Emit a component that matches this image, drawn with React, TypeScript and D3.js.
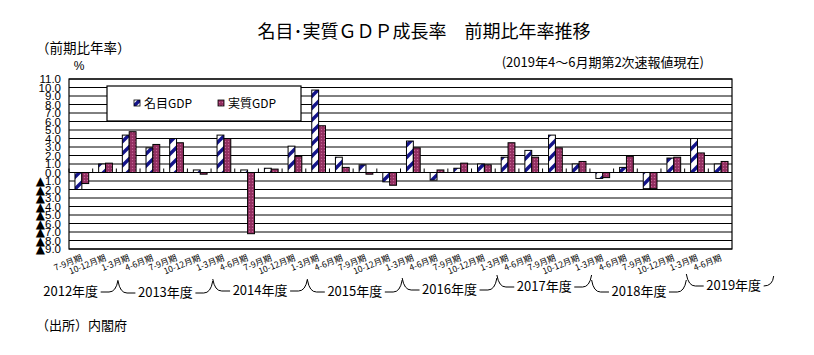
import React from "react";
import * as d3 from "d3";

const quarterLabels = [
  "7-9月期", "10-12月期", "1-3月期",
  "4-6月期", "7-9月期", "10-12月期", "1-3月期",
  "4-6月期", "7-9月期", "10-12月期", "1-3月期",
  "4-6月期", "7-9月期", "10-12月期", "1-3月期",
  "4-6月期", "7-9月期", "10-12月期", "1-3月期",
  "4-6月期", "7-9月期", "10-12月期", "1-3月期",
  "4-6月期", "7-9月期", "10-12月期", "1-3月期",
  "4-6月期",
];
const nominalGDP = [-2.0, 1.0, 4.4, 2.9, 4.0, 0.3, 4.4, 0.3, 0.5, 3.1, 9.7, 1.8, 0.9, -1.1, 3.7, -0.9, 0.5, 1.0, 1.8, 2.6, 4.4, 1.0, -0.7, 0.6, -1.9, 1.7, 4.0, 1.0];
const realGDP = [-1.3, 1.1, 4.8, 3.3, 3.5, -0.2, 4.0, -7.2, 0.4, 1.9, 5.5, 0.6, -0.2, -1.5, 2.9, 0.3, 1.1, 0.9, 3.5, 1.8, 2.9, 1.3, -0.6, 1.9, -1.9, 1.8, 2.3, 1.3];
const yearLabels = ["2012年度", "2013年度", "2014年度", "2015年度", "2016年度", "2017年度", "2018年度", "2019年度"];
const yearStartIndex = [-1, 3, 7, 11, 15, 19, 23, 27];
const yTicks = d3.range(11, -10, -1);
const seriesNames = ["名目GDP", "実質GDP"];

const title = "名目･実質ＧＤＰ成長率　前期比年率推移";
const subtitle = "(2019年4～6月期第2次速報値現在)";
const unitLabel = "（前期比年率）";
const source = "（出所）内閣府";

// layout
const W = 814, H = 355;
const left = 69, right = 732, top = 79, bottom = 249;
const yearLabelY = [291, 292, 290, 291, 289, 286, 291, 285];
const NAVY = "#14148a";
const WINE = "#993366";
const JP = "'Noto Sans CJK JP', 'Noto Sans', sans-serif";
const AR = "'Liberation Sans', Arial, 'DejaVu Sans', sans-serif";

export default function App() {
  const idx = quarterLabels.map((_, i) => i);
  const x = d3.scaleBand<number>().domain(idx).range([left, right]).padding(0);
  const y = d3.scaleLinear().domain([-9, 11]).range([bottom, top]);
  const bw = x.bandwidth();
  const barW = bw * 0.29;
  const y0 = y(0);
  const shift = -22;

  const bar = (v: number, bx: number, fill: string, key: string) => (
    <rect key={key} x={bx} y={Math.min(y(v), y0)} width={barW} height={Math.abs(y(v) - y0)}
      fill={fill} stroke="#000" strokeWidth={1} />
  );

  return (
    <svg width={W} height={H} style={{ position: "absolute", left: 0, top: 0, background: "#fff" }}>
      <defs>
        <pattern id="stripe" patternUnits="userSpaceOnUse" width={12} height={12}>
          <rect width={12} height={12} fill="#fff" />
          <path d="M-1,13 L13,-1 M-4,4 L4,-4 M8,16 L16,8" stroke={NAVY} strokeWidth={3.4} />
        </pattern>
        <pattern id="dots" patternUnits="userSpaceOnUse" width={3} height={3}>
          <rect width={3} height={3} fill={WINE} />
          <rect x={0} y={0} width={1} height={1} fill="#c46a98" />
          <rect x={1.5} y={1.5} width={1} height={1} fill="#7a2450" />
        </pattern>
      </defs>

      {/* title */}
      <text x={424} y={38} textAnchor="middle" fontFamily={JP} fontSize={18} fill="#000">{title}</text>
      <text x={704} y={67} textAnchor="end" fontFamily={JP} fontSize={13} fill="#000">{subtitle}</text>
      <text x={36} y={53} fontFamily={JP} fontSize={13.5} fill="#000">{unitLabel}</text>
      <text x={79} y={70} textAnchor="middle" fontFamily={AR} fontSize={12} fill="#000">%</text>

      {/* gridlines */}
      {yTicks.map((t) => (
        <line key={"g" + t} x1={left} x2={right} y1={y(t)} y2={y(t)} stroke="#000" strokeWidth={1} />
      ))}
      <rect x={left} y={top} width={right - left} height={bottom - top} fill="none" stroke="#000" strokeWidth={1.2} />

      {/* y labels */}
      {yTicks.map((t) => (
        <text key={"yl" + t} x={61} y={y(t)} dy="0.36em" textAnchor="end" fontFamily={AR} fontSize={11.5} fill="#000">
          {t < 0 ? <tspan fontFamily="'DejaVu Sans', sans-serif" fontSize={12}>▲</tspan> : null}
          {Math.abs(t).toFixed(1)}
        </text>
      ))}

      {/* legend */}
      <rect x={107} y={86} width={194} height={35} fill="#fff" stroke="#000" strokeWidth={1.2} />
      <rect x={134} y={100} width={6} height={6} fill="url(#stripe)" stroke="#000" strokeWidth={0.8} />
      <text x={144} y={108} fontFamily={JP} fontSize={12} fill="#000">{seriesNames[0]}</text>
      <rect x={218} y={100} width={6} height={6} fill="url(#dots)" stroke="#000" strokeWidth={0.8} />
      <text x={228} y={108} fontFamily={JP} fontSize={12} fill="#000">{seriesNames[1]}</text>

      {/* category ticks on zero axis */}
      {idx.map((i) => (
        <line key={"t" + i} x1={x(i)!} x2={x(i)!} y1={y0} y2={y0 - 4} stroke="#000" strokeWidth={1} />
      ))}

      {/* bars */}
      {idx.map((i) => {
        const c = x(i)! + bw / 2 + 1;
        return (
          <g key={"b" + i}>
            {bar(nominalGDP[i], c - barW, "url(#stripe)", "n" + i)}
            {bar(realGDP[i], c, "url(#dots)", "r" + i)}
          </g>
        );
      })}

      {/* x labels */}
      {idx.map((i) => (
        <text key={"xl" + i} transform={`translate(${x(i)! + bw / 2 + 2},${260}) rotate(-22)`}
          textAnchor="end" fontFamily={JP} fontSize={8.5} fill="#000">{quarterLabels[i]}</text>
      ))}

      {/* year groups */}
      {yearLabels.map((lab, k) => {
        const a = left + yearStartIndex[k] * bw + shift;
        const last = k === yearLabels.length - 1;
        const cx = last ? a + 2 * bw : a + 2 * bw;
        const b = last ? cx + 40 : a + 4 * bw;
        const ty = yearLabelY[k];
        const half = 30;
        const ly = ty + 1;
        const p1 = k === 0 ? null : `M${a},${ty - 11} Q${a + 2},${ly} ${a + 9},${ly} L${cx - half},${ly}`;
        const p2 = last
          ? `M${cx + half},${ly} Q${b - 1},${ly} ${b},${ty - 9}`
          : `M${cx + half},${ly} L${b - 9},${ly} Q${b - 2},${ly} ${b},${ty - 11}`;
        return (
          <g key={"y" + k}>
            {p1 && <path d={p1} fill="none" stroke="#000" strokeWidth={1} />}
            <path d={p2} fill="none" stroke="#000" strokeWidth={1} />
            <text x={cx} y={ty} dy="0.35em" textAnchor="middle" fontFamily={JP} fontSize={13} fill="#000">{lab}</text>
          </g>
        );
      })}

      <text x={36} y={330} fontFamily={JP} fontSize={13} fill="#000">{source}</text>
    </svg>
  );
}
